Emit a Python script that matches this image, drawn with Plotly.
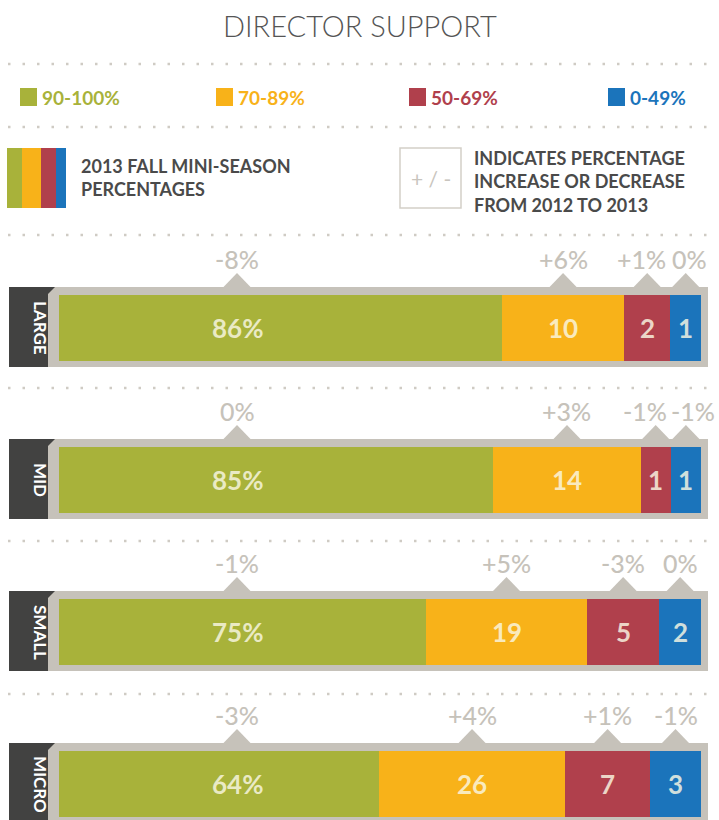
import plotly.graph_objects as go

# --- data -------------------------------------------------------------
categories = ["LARGE", "MID", "SMALL", "MICRO"]
bands = ["90-100%", "70-89%", "50-69%", "0-49%"]

pct_90_100 = [86, 85, 75, 64]
pct_70_89 = [10, 14, 19, 26]
pct_50_69 = [2, 1, 5, 7]
pct_0_49 = [1, 1, 2, 3]

chg_90_100 = ["-8%", "0%", "-1%", "-3%"]
chg_70_89 = ["+6%", "+3%", "+5%", "+4%"]
chg_50_69 = ["+1%", "-1%", "-3%", "+1%"]
chg_0_49 = ["0%", "-1%", "0%", "-1%"]

# --- styling ----------------------------------------------------------
W, H = 719, 820
COLORS = ["#a8b23a", "#f8b219", "#b0404c", "#1b74bb"]
FRAME = "#c6c2ba"
TAB = "#424241"
DOTS = "#cfcbc4"
FONT = "Lato"

# the original graphic widens the small shares: segments follow a power
# scale (exponent 0.6), normalised to 100 per row
POW = 0.6

series = [pct_90_100, pct_70_89, pct_50_69, pct_0_49]
changes = [chg_90_100, chg_70_89, chg_50_69, chg_0_49]

# row centres in pixels (y axis runs in pixels, top = 0)
row_y = [328, 480, 632, 784]
BAR_H = 66
BAR_X0, BAR_X1 = 59, 701
PX_PER_UNIT = (BAR_X1 - BAR_X0) / 100


def px(x):
    return x / W


scaled = []
for i in range(len(categories)):
    raw = [s[i] ** POW for s in series]
    tot = sum(raw)
    scaled.append([r / tot * 100 for r in raw])

fig = go.Figure()
for b, band in enumerate(bands):
    fig.add_trace(go.Bar(
        orientation="h",
        y=row_y,
        x=[scaled[i][b] for i in range(len(categories))],
        width=BAR_H,
        name=band,
        marker=dict(color=COLORS[b], line=dict(width=0)),
        customdata=[[categories[i], series[b][i]] for i in range(len(categories))],
        hovertemplate="%{customdata[0]} " + band + ": %{customdata[1]}%<extra></extra>",
        showlegend=False,
    ))

shapes = []
annotations = []

# title
annotations.append(dict(x=0.5, y=25, xref="paper", yref="y", text="DIRECTOR SUPPORT",
                        showarrow=False, font=dict(family=FONT, size=29, color="#555555", weight=300)))

# dotted separators
for yy in [64, 127, 235, 388, 541, 694]:
    shapes.append(dict(type="line", xref="paper", yref="y", x0=px(8), x1=px(714), y0=yy, y1=yy,
                       line=dict(color=DOTS, width=2.5, dash="2.5px,12px")))

# colour legend
leg_x = [20, 216, 409, 608]
for b, band in enumerate(bands):
    shapes.append(dict(type="rect", xref="paper", yref="y", x0=px(leg_x[b]), x1=px(leg_x[b] + 17),
                       y0=88, y1=106, fillcolor=COLORS[b], line=dict(width=0)))
    annotations.append(dict(x=px(leg_x[b] + 20), y=97, xref="paper", yref="y", text=band,
                            xanchor="left", showarrow=False,
                            font=dict(family=FONT, size=19, color=COLORS[b], weight="bold")))

# stripe key
stripe_edges = [7, 22, 41, 56, 66]
for b in range(4):
    shapes.append(dict(type="rect", xref="paper", yref="y", x0=px(stripe_edges[b]),
                       x1=px(stripe_edges[b + 1]), y0=148, y1=208,
                       fillcolor=COLORS[b], line=dict(width=0)))
annotations.append(dict(x=px(79), y=177, xref="paper", yref="y", xanchor="left", align="left",
                        text="2013 FALL MINI-SEASON<br>PERCENTAGES", showarrow=False,
                        font=dict(family=FONT, size=18, color="#4a4a4a", weight="bold")))

# +/- key
shapes.append(dict(type="rect", xref="paper", yref="y", x0=px(400), x1=px(461), y0=148, y1=208,
                   fillcolor="rgba(0,0,0,0)", line=dict(color="#d3cfc8", width=1.5)))
annotations.append(dict(x=px(430.5), y=178, xref="paper", yref="y", text="+ / -", showarrow=False,
                        font=dict(family=FONT, size=21, color="#c9c5be")))
annotations.append(dict(x=px(472), y=181, xref="paper", yref="y", xanchor="left", align="left",
                        text="INDICATES PERCENTAGE<br>INCREASE OR DECREASE<br>FROM 2012 TO 2013",
                        showarrow=False,
                        font=dict(family=FONT, size=18, color="#4a4a4a", weight="bold")))

# rows: frame, tab, value labels, change markers
GREEN_LABEL_X = (237 - BAR_X0) / PX_PER_UNIT
TRI_HALF = 13.5 / PX_PER_UNIT
MIN_SEP = 48  # px between change-label centres
for i, cat in enumerate(categories):
    cy = row_y[i]
    top, bot = cy - 41, cy + 39
    shapes.append(dict(type="rect", xref="paper", yref="y", x0=px(48), x1=px(708), y0=top, y1=bot,
                       fillcolor=FRAME, line=dict(width=0), layer="below"))
    shapes.append(dict(type="rect", xref="paper", yref="y", x0=px(9), x1=px(48), y0=top, y1=bot,
                       fillcolor=TAB, line=dict(width=0), layer="below"))
    shapes.append(dict(type="path", xref="paper", yref="y",
                       path=f"M {px(48)},{top} L {px(55)},{top} L {px(48)},{top + 7} Z",
                       fillcolor=TAB, line=dict(width=0), layer="below"))
    annotations.append(dict(x=px(28.5), y=cy, xref="paper", yref="y", text=cat, textangle=90,
                            showarrow=False,
                            font=dict(family=FONT, size=17, color="white", weight="bold")))

    left = 0
    mids = []
    for b in range(4):
        w = scaled[i][b]
        mids.append(GREEN_LABEL_X if b == 0 else left + w / 2)
        left += w

    # push the two narrow right-hand change labels apart when they crowd
    shifts = [0, 0, 0, 0]
    gap = (mids[3] - mids[2]) * PX_PER_UNIT
    if gap < MIN_SEP:
        shifts[2] = -(MIN_SEP - gap) * 0.6
        shifts[3] = (MIN_SEP - gap) * 0.4

    for b in range(4):
        mid = mids[b]
        label = f"{series[b][i]}%" if b == 0 else f"{series[b][i]}"
        annotations.append(dict(x=mid, y=cy, xref="x", yref="y", text=label, showarrow=False,
                                font=dict(family=FONT, size=26, color="rgba(250,248,228,0.82)",
                                          weight="bold")))
        annotations.append(dict(x=mid, y=cy - 69, xref="x", yref="y", text=changes[b][i],
                                showarrow=False, xshift=shifts[b],
                                font=dict(family=FONT, size=25, color=FRAME, weight=500)))
        shapes.append(dict(type="path", xref="x", yref="y",
                           path=f"M {mid - TRI_HALF},{top} L {mid},{top - 14} L {mid + TRI_HALF},{top} Z",
                           fillcolor=FRAME, line=dict(width=0), layer="below"))

fig.update_layout(
    width=W, height=H,
    margin=dict(l=0, r=0, t=0, b=0),
    paper_bgcolor="white",
    plot_bgcolor="rgba(0,0,0,0)",
    barmode="stack",
    bargap=0,
    xaxis=dict(domain=[px(BAR_X0), px(BAR_X1)], range=[0, 100], visible=False, fixedrange=True),
    yaxis=dict(domain=[0, 1], range=[H, 0], visible=False, fixedrange=True),
    shapes=shapes,
    annotations=annotations,
)

# drop the browser's default body margin so the chart sits at the page corner
fig.write_html("out.html", config={"displayModeBar": False},
               post_script="document.body.style.margin='0';")
